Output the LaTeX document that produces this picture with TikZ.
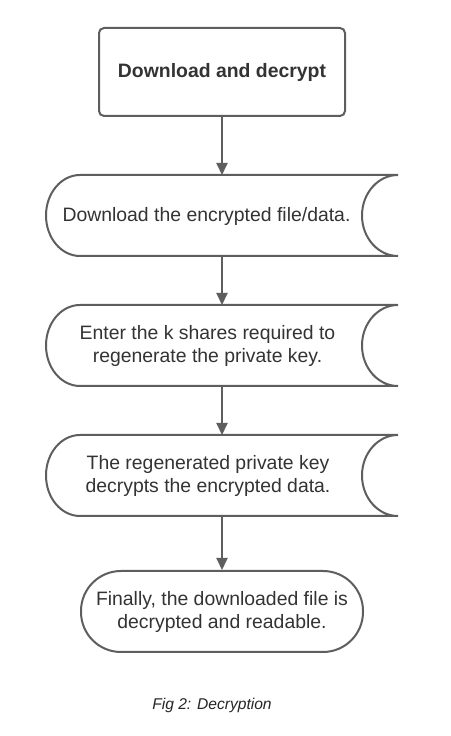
\documentclass[tikz,border=0pt]{standalone}
\usepackage{fontspec}
\setmainfont{Liberation Sans}
\usetikzlibrary{arrows.meta}
\definecolor{linec}{HTML}{5E5E5E}
\definecolor{textc}{HTML}{333333}
\begin{document}
\begin{tikzpicture}[x=1pt,y=1pt,
  outline/.style={draw=linec,line width=2pt},
  shapebox/.style={minimum width=352pt,minimum height=81pt,inner sep=0pt,outer sep=0pt},
  label/.style={align=center,text=textc,font=\fontsize{19.4}{23.3}\selectfont,inner sep=0pt},
  conn/.style={draw=linec,line width=2pt,-{Triangle[length=12pt,width=11pt]}}]
\useasboundingbox[fill=white] (0,0) rectangle (450,736);
% start box
\node[outline,rounded corners=5pt,minimum width=246pt,minimum height=88pt,inner sep=0pt,
      text=textc,font=\bfseries\fontsize{19.4}{23}\selectfont] (start) at (222,664) {Download and decrypt};
% stored data shapes
\node[shapebox] (s2) at (222,520.5) {};
\node[shapebox] (s3) at (222,390.5) {};
\node[shapebox] (s4) at (222,260.5) {};
\foreach \c in {520.5,390.5,260.5}{
  \draw[outline] (398,\c+40.5) -- (80,\c+40.5)
    arc[start angle=90,end angle=270,x radius=34,y radius=40.5]
    -- (398,\c-40.5)
    arc[start angle=270,end angle=90,x radius=36,y radius=40.5];
}
\node[label] (t2) at (206.5,520) {Download the encrypted file/data.};
\node[label] (t3) at (207.5,390) {Enter the k shares required to\\regenerate the private key.};
\node[label] (t4) at (208,260) {The regenerated private key\\decrypts the encrypted data.};
% terminator
\node[outline,rounded corners=40pt,minimum width=282pt,minimum height=81pt,inner sep=0pt] (end) at (222,124.5) {};
\node[label] (t5) at (222,124) {Finally, the downloaded file is\\decrypted and readable.};
% connectors
\draw[conn] (start.south) -- (s2.north);
\draw[conn] (s2.south) -- (s3.north);
\draw[conn] (s3.south) -- (s4.north);
\draw[conn] (s4.south) -- (end.north);
% caption
\node[text=black!85,font=\itshape\fontsize{15.6}{18}\selectfont,inner sep=0pt] (cap) at (212,31) {Fig 2: Decryption};
\end{tikzpicture}
\end{document}
